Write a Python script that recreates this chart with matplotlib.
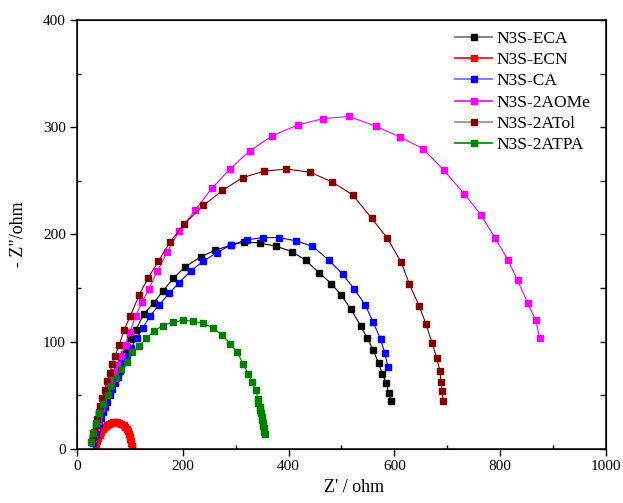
import matplotlib
matplotlib.use('Agg')
import matplotlib.pyplot as plt
from matplotlib.lines import Line2D
from matplotlib.ticker import MultipleLocator

plt.rcParams['font.family'] = ['Liberation Serif', 'DejaVu Serif']

# Nyquist data (Z' / -Z'' in ohm)
eca_x = [29, 31, 34, 37, 40, 43, 46, 50, 54, 58, 62, 67, 72, 77, 83, 89, 95, 101, 111, 127,
         145, 162, 182, 205, 234, 260, 291, 316, 345, 376, 406, 432, 458, 481, 500, 518,
         536, 549, 560, 570, 577, 585, 589, 594]
eca_y = [6, 10, 15, 20, 25, 30, 35, 40, 46, 52, 57, 63, 69, 75, 82, 88, 95, 102, 111, 126,
         136, 147, 159, 170, 179, 185, 190, 193, 192, 189, 184, 176, 164, 154, 143, 130,
         115, 103, 92, 80, 70, 61, 52, 45]

ecn_x = [36, 38, 40, 43, 46, 49, 52, 56, 60, 64, 68, 72, 76, 80, 84, 88, 91, 94, 96, 98,
         100, 101, 102, 103, 103.5, 104]
ecn_y = [3, 7, 10, 13, 16, 18, 20, 22, 23.5, 24.5, 25, 25.2, 25, 24.5, 23.5, 22, 20.5, 18.5,
         16.5, 14, 11, 9, 7, 5, 3, 1.5]

ca_x = [30, 32, 35, 38, 41, 45, 49, 53, 57, 62, 67, 72, 77, 82, 86, 94, 102, 113, 125, 138,
        155, 174, 193, 215, 239, 264, 291, 321, 352, 382, 414, 445, 476, 502, 524, 545,
        560, 574, 582, 588]
ca_y = [5, 9, 14, 19, 24, 29, 34, 39, 44, 50, 56, 61, 67, 73, 80, 87, 94, 103, 113, 124,
        134, 145, 155, 166, 175, 183, 190, 195, 197, 197, 194, 189, 176, 163, 149, 134,
        118, 102, 89, 76]

aome_x = [29, 31, 33, 36, 39, 42, 46, 50, 55, 60, 65, 70, 75, 83, 92, 100, 111, 123, 136,
          152, 171, 193, 224, 255, 289, 327, 369, 417, 465, 514, 565, 610, 654, 693, 732,
          764, 790, 815, 833, 852, 867, 875]
aome_y = [6, 10, 15, 20, 26, 32, 38, 45, 52, 59, 65, 72, 78, 87, 97, 109, 124, 137, 149,
          166, 184, 203, 223, 243, 261, 278, 292, 302, 308, 310, 301, 291, 280, 260, 238,
          218, 197, 176, 157, 136, 120, 103]

atol_x = [28, 30, 32, 35, 38, 41, 44, 48, 52, 57, 62, 67, 72, 80, 89, 101, 117, 134, 154,
          176, 203, 239, 275, 313, 354, 396, 441, 482, 521, 557, 586, 613, 628, 647, 660,
          671, 680, 686, 688, 690, 692]
atol_y = [6, 11, 16, 22, 28, 34, 40, 47, 55, 63, 71, 79, 87, 97, 111, 124, 143, 159, 175,
          193, 210, 227, 241, 253, 259, 261, 258, 249, 237, 215, 197, 174, 154, 133, 116,
          99, 85, 73, 62, 54, 45]

atpa_x = [26, 31, 36, 42, 49, 58, 65, 73, 83, 94, 104, 118, 131, 146, 162, 182, 201, 220,
          239, 257, 274, 290, 303, 314, 324, 331, 338, 342, 343, 345, 346, 348, 349, 350,
          351, 352, 353, 354, 355]
atpa_y = [6, 15, 24, 33, 42, 50, 59, 66, 74, 81, 90, 96, 103, 110, 115, 118, 120, 119, 117,
          113, 106, 98, 90, 79, 70, 62, 55, 46, 43, 39, 36, 33, 30, 27, 24, 21, 19, 16, 14]

series = [
    ('N3S-ECA', eca_x, eca_y, '#000000', '#707070'),
    ('N3S-ECN', ecn_x, ecn_y, '#ff0000', '#ff0000'),
    ('N3S-CA', ca_x, ca_y, '#0000ff', '#6a6aff'),
    ('N3S-2AOMe', aome_x, aome_y, '#ff00ff', '#ff00ff'),
    ('N3S-2ATol', atol_x, atol_y, '#800000', '#b08080'),
    ('N3S-2ATPA', atpa_x, atpa_y, '#008000', '#008000'),
]

fig = plt.figure(figsize=(6.23, 5.03), dpi=100)
ax = fig.add_axes([0.1236, 0.1078, 0.8491, 0.8524])

handles = []
for name, xs, ys, col, lcol in series:
    ax.plot(xs, ys, '-s', color=col, lw=0.8, ms=5, mec=col, mfc=col)
    handles.append(Line2D([], [], color=lcol, lw=1.2, marker='s', ms=5,
                          mfc=col, mec=col))

ax.set_xlim(0, 1000)
ax.set_ylim(0, 400)
ax.xaxis.set_major_locator(MultipleLocator(200))
ax.xaxis.set_minor_locator(MultipleLocator(100))
ax.yaxis.set_major_locator(MultipleLocator(100))
ax.yaxis.set_minor_locator(MultipleLocator(50))
ax.tick_params(which='major', direction='out', length=5, width=1, labelsize=11, pad=3)
ax.tick_params(which='minor', direction='in', length=3, width=1)
for sp in ax.spines.values():
    sp.set_linewidth(1.1)

# right-hand ticks point inward
rax = ax.twinx()
rax.set_ylim(0, 400)
rax.yaxis.set_major_locator(MultipleLocator(100))
rax.yaxis.set_minor_locator(MultipleLocator(50))
rax.tick_params(which='both', direction='in', length=4, width=1, labelright=False)

ax.set_xlabel("Z' / ohm", fontsize=13, va='top')
ax.set_ylabel('- Z"/ohm', fontsize=13)
ax.xaxis.set_label_coords(0.523, -0.07)
ax.yaxis.set_label_coords(-0.095, 0.5)

ax.legend(handles, [s[0] for s in series], loc='upper right', frameon=False,
          fontsize=12.5, handlelength=2.1, handletextpad=0.3, labelspacing=0.3,
          borderaxespad=0.2, bbox_to_anchor=(0.991, 1.0))

fig.savefig('out.png', dpi=100)
